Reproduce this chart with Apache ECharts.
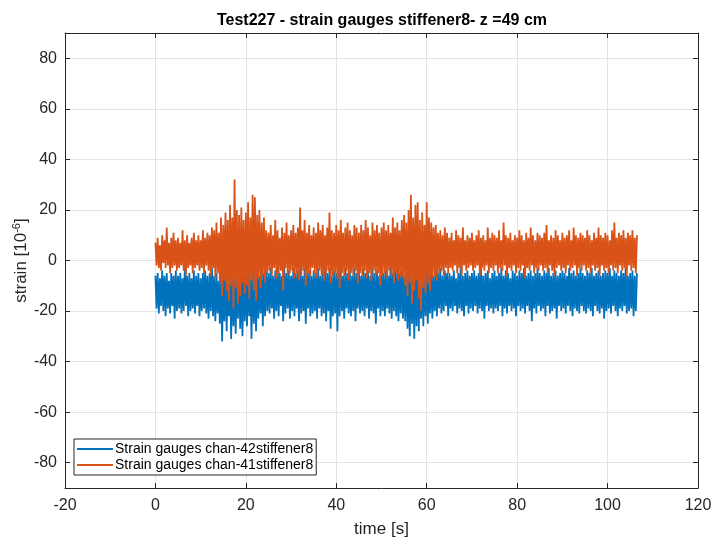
<!DOCTYPE html>
<html>
<head>
<meta charset="utf-8">
<script src="https://cdn.jsdelivr.net/npm/echarts@6/dist/echarts.min.js"></script>
<style>
  html, body { margin: 0; padding: 0; background: #fff; }
  #chart { width: 715px; height: 537px; }
</style>
</head>
<body>
<div id="chart"></div>
<script>
// Sample spacing of the recorded strain channels, seconds
const sampleStep = 0.25;

// Strain gauges chan-42 (stiffener 8), microstrain, one row = 5 s
const chan42 = [
  -6,-19, -5,-21, -7,-18, -4,-20, -6,-22, -5,-19, -8,-21, -5,-18, -6,-23, -4,-20,
  -6,-19, -5,-21, -7,-20, -3,-18, -6,-22, -5,-20, -7,-19, -4,-21, -6,-18, -5,-22,
  -7,-20, -5,-19, -4,-21, -6,-23, -5,-20, -3,-22, -6,-24, -5,-21, -8,-25, -4,-32,
  -6,-24, -3,-28, -9,-22, -5,-31, -2,-26, -7,-29, -4,-23, -1,-27, -6,-30, -3,-24,
  -5,-26, -2,-22, -7,-31, 0,-25, -4,-28, -3,-23, -6,-21, -2,-26, -5,-22, -4,-20,
  -5,-21, -3,-19, -6,-23, -4,-20, -2,-22, -5,-18, -6,-24, -3,-21, -5,-19, -4,-23,
  -6,-20, -3,-22, -5,-19, -4,-24, -2,-21, -6,-20, -3,-25, -5,-19, -4,-22, -6,-21,
  -4,-20, -5,-23, -3,-19, -6,-22, -4,-21, -2,-24, -5,-20, -3,-27, -6,-22, -4,-21,
  -5,-28, -1,-22, -4,-20, -6,-23, -3,-19, -5,-21, -4,-22, -6,-20, -3,-24, -5,-19,
  -4,-21, -6,-20, -3,-22, -5,-19, -4,-23, -6,-20, -3,-21, -5,-25, -4,-19, -6,-22,
  -3,-20, -5,-22, -4,-19, -6,-21, -2,-23, -5,-20, -4,-22, -3,-24, -5,-21, -4,-23,
  -6,-24, -2,-27, -5,-30, -3,-25, -1,-31, 0,-26, -4,-28, -2,-23, -5,-26, -3,-22,
  -4,-25, -5,-21, -3,-23, -6,-20, -4,-22, -5,-19, -3,-21, -6,-20, -4,-18, -5,-22,
  -5,-19, -6,-20, -4,-18, -7,-21, -5,-19, -3,-20, -6,-22, -5,-18, -4,-21, -6,-19,
  -5,-20, -4,-18, -6,-21, -5,-19, -3,-20, -6,-23, -5,-18, -4,-20, -7,-19, -5,-21,
  -4,-19, -6,-20, -5,-18, -3,-22, -6,-19, -4,-21, -5,-18, -7,-20, -4,-19, -5,-22,
  -6,-18, -4,-20, -5,-19, -3,-21, -6,-18, -5,-20, -4,-24, -6,-19, -5,-21, -3,-18,
  -5,-20, -6,-19, -4,-22, -5,-18, -3,-21, -6,-20, -5,-19, -4,-23, -6,-18, -5,-20,
  -4,-19, -5,-21, -6,-18, -3,-20, -5,-22, -4,-19, -6,-20, -5,-21, -3,-18, -5,-20,
  -6,-21, -4,-19, -5,-20, -3,-22, -6,-18, -5,-20, -4,-21, -6,-19, -5,-23, -4,-20,
  -5,-19, -3,-21, -6,-18, -4,-20, -5,-22, -6,-19, -4,-20, -5,-18, -3,-21, -6,-20,
  -5,-19, -4,-22, -6,-20, -5
];

// Strain gauges chan-41 (stiffener 8), microstrain, one row = 5 s
const chan41 = [
  7,-2, 9,-3, 6,-4, 10,-1, 8,-3, 13,-2, 7,-5, 9,-3, 11,-2, 8,-4,
  9,-3, 7,-2, 12,-4, 8,-6, 10,-3, 7,-2, 9,-5, 11,-3, 8,-2, 10,-4,
  8,-3, 12,-5, 9,-2, 11,-4, 10,-6, 13,-3, 12,-7, 15,-5, 11,-9, 17,-14,
  14,-8, 19,-12, 16,-16, 22,-10, 17,-19, 32,-11, 20,-17, 18,-14, 21,-9, 16,-13,
  19,-10, 23,-15, 17,-8, 26,-12, 25,-16, 18,-7, 20,-11, 15,-6, 17,-9, 12,-5,
  11,-4, 14,-6, 10,-3, 16,-7, 12,-5, 9,-4, 13,-12, 11,-3, 15,-6, 10,-5,
  12,-4, 14,-7, 11,-5, 13,-8, 21,-6, 12,-4, 16,-10, 11,-5, 14,-6, 10,-3,
  13,-5, 11,-7, 15,-4, 12,-6, 14,-8, 10,-5, 13,-4, 19,-9, 12,-6, 11,-5,
  14,-7, 12,-11, 16,-5, 11,-6, 13,-4, 15,-8, 12,-5, 10,-6, 14,-4, 13,-9,
  11,-5, 14,-6, 12,-4, 16,-7, 13,-5, 10,-8, 15,-4, 12,-6, 14,-5, 11,-10,
  13,-6, 15,-5, 12,-7, 14,-4, 11,-6, 17,-9, 13,-5, 15,-8, 12,-6, 16,-7,
  18,-10, 15,-14, 20,-9, 26,-17, 17,-12, 22,-8, 23,-15, 16,-20, 19,-11, 14,-13,
  23,-9, 17,-12, 15,-7, 13,-6, 14,-8, 11,-5, 12,-4, 10,-6, 13,-3, 11,-5,
  9,-3, 11,-4, 8,-2, 12,-5, 10,-3, 9,-6, 13,-2, 8,-4, 10,-3, 9,-2,
  11,-4, 8,-3, 10,-2, 12,-6, 9,-3, 10,-4, 8,-2, 13,-5, 9,-3, 11,-4,
  10,-2, 9,-5, 12,-3, 8,-4, 15,-2, 10,-6, 9,-3, 11,-4, 8,-2, 10,-5,
  9,-3, 12,-4, 10,-2, 8,-7, 11,-3, 9,-4, 13,-2, 10,-5, 8,-3, 11,-4,
  10,-2, 9,-4, 11,-3, 14,-5, 8,-2, 10,-4, 9,-6, 12,-3, 10,-2, 8,-4,
  11,-3, 9,-5, 10,-2, 12,-4, 8,-3, 13,-2, 10,-6, 9,-3, 11,-4, 10,-2,
  9,-4, 12,-3, 10,-5, 8,-2, 11,-4, 9,-3, 13,-6, 10,-2, 9,-4, 11,-3,
  10,-5, 8,-2, 12,-4, 15,-3, 9,-5, 11,-2, 10,-4, 12,-3, 9,-6, 11,-2,
  10,-4, 12,-3, 9,-5, 10
];

const seriesNames = ['Strain gauges chan-42stiffener8', 'Strain gauges chan-41stiffener8'];
const xTicks = [-20, 0, 20, 40, 60, 80, 100, 120];
const yTicks = [-80, -60, -40, -20, 0, 20, 40, 60, 80];

function toPairs(values) {
  return values.map((v, i) => [i * sampleStep, v]);
}

const ink = '#262626';
const font = 'Liberation Sans, Arial, Helvetica, sans-serif';

const chart = echarts.init(document.getElementById('chart'), null, { renderer: 'canvas' });

// top and right edges of the axes box, ticks only
const boxAxisX = {
  type: 'value', min: -20, max: 120, interval: 20,
  axisLine: { show: true, onZero: false, lineStyle: { color: ink, width: 1 } },
  axisTick: { show: true, inside: true, length: 5, lineStyle: { color: ink } },
  splitLine: { show: false },
  axisLabel: { show: false }
};
const boxAxisY = {
  type: 'value', min: -90, max: 90,
  axisLine: { show: true, onZero: false, lineStyle: { color: ink, width: 1 } },
  axisTick: { show: true, inside: true, length: 5, customValues: yTicks, lineStyle: { color: ink } },
  splitLine: { show: false },
  axisLabel: { show: false }
};

chart.setOption({
  animation: false,
  backgroundColor: '#ffffff',
  title: {
    text: 'Test227 - strain gauges stiffener8- z =49 cm',
    left: 382, top: 13, padding: 0, textAlign: 'center',
    textStyle: { fontFamily: font, fontSize: 16, fontWeight: 'bold', color: '#000' }
  },
  grid: { left: 65, right: 17, top: 33, bottom: 49, containLabel: false, outerBoundsMode: 'none' },
  legend: {
    data: seriesNames,
    orient: 'vertical',
    left: 74, top: 439,
    padding: [3, 3, 3, 3],
    itemGap: 2,
    itemWidth: 36, itemHeight: 2,
    icon: 'rect',
    backgroundColor: '#ffffff',
    borderColor: ink, borderWidth: 1, borderRadius: 0,
    textStyle: { fontFamily: font, fontSize: 14, color: '#000', padding: [0, 0, 0, -3] }
  },
  xAxis: [
    {
      type: 'value', min: -20, max: 120, interval: 20, position: 'bottom',
      name: 'time [s]', nameLocation: 'middle', nameGap: 33, nameMoveOverlap: false,
      nameTextStyle: { fontFamily: font, fontSize: 17, color: ink, verticalAlign: 'top' },
      axisLine: { show: true, onZero: false, lineStyle: { color: ink, width: 1 } },
      axisTick: { show: true, inside: true, length: 5, lineStyle: { color: ink } },
      axisLabel: { fontFamily: font, fontSize: 16, color: ink, margin: 10, customValues: xTicks },
      splitLine: { show: true, lineStyle: { color: '#e3e3e3', width: 1 } }
    },
    Object.assign({ position: 'top' }, boxAxisX)
  ],
  yAxis: [
    {
      type: 'value', min: -90, max: 90, position: 'left',
      name: 'strain [10{sup|-6}]', nameLocation: 'middle', nameGap: 34, nameMoveOverlap: false,
      nameTextStyle: {
        fontFamily: font, fontSize: 17, color: ink,
        rich: { sup: { fontFamily: font, fontSize: 11, color: ink, verticalAlign: 'top', padding: [0, 0, 9, 0] } }
      },
      axisLine: { show: true, onZero: false, lineStyle: { color: ink, width: 1 } },
      axisTick: { show: true, inside: true, length: 5, customValues: yTicks, lineStyle: { color: ink } },
      axisLabel: { fontFamily: font, fontSize: 16, color: ink, margin: 8, customValues: yTicks },
      splitLine: { show: true, lineStyle: { color: '#e3e3e3', width: 1 } }
    },
    Object.assign({ position: 'right' }, boxAxisY)
  ],
  series: [
    {
      name: seriesNames[0], type: 'line', xAxisIndex: 0, yAxisIndex: 0,
      data: toPairs(chan42), showSymbol: false, symbol: 'none', sampling: null,
      color: '#0072BD', lineStyle: { color: '#0072BD', width: 1.8 }, z: 2
    },
    {
      name: seriesNames[1], type: 'line', xAxisIndex: 0, yAxisIndex: 0,
      data: toPairs(chan41), showSymbol: false, symbol: 'none', sampling: null,
      color: '#D95319', lineStyle: { color: '#D95319', width: 1.8 }, z: 3
    }
  ]
});
</script>
</body>
</html>
